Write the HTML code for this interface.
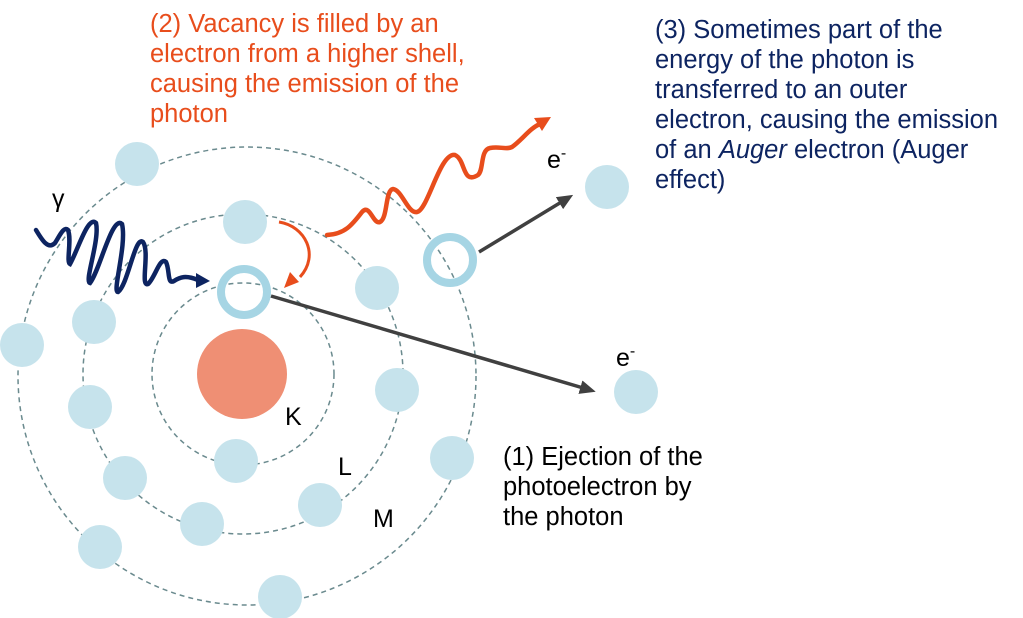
<!DOCTYPE html>
<html><head><meta charset="utf-8"><style>
html,body{margin:0;padding:0;background:#fff;}
svg{display:block;}
text{font-family:"Liberation Sans",Arial,sans-serif;}
</style></head><body>
<svg width="1023" height="618" viewBox="0 0 1023 618" xmlns="http://www.w3.org/2000/svg">
<defs>
<marker id="ag" markerWidth="16" markerHeight="14" refX="10" refY="7" orient="auto" markerUnits="userSpaceOnUse"><path d="M0,0 L16,7 L0,14 Z" fill="#404040"/></marker>
</defs>
<g fill="none" stroke="#6a8a8e" stroke-width="1.5" stroke-dasharray="5,4">
<circle cx="243" cy="374" r="91"/>
<circle cx="243" cy="374" r="160"/>
<circle cx="247" cy="376" r="229"/>
</g>
<circle cx="242" cy="374" r="45" fill="#ef8f74"/>
<g fill="#c6e3ec">
<circle cx="137" cy="164" r="22"/>
<circle cx="245" cy="222" r="22"/>
<circle cx="22" cy="345" r="22"/>
<circle cx="94" cy="322" r="22"/>
<circle cx="90" cy="407" r="22"/>
<circle cx="125" cy="478" r="22"/>
<circle cx="202" cy="524" r="22"/>
<circle cx="100" cy="547" r="22"/>
<circle cx="236" cy="461" r="22"/>
<circle cx="320" cy="505" r="22"/>
<circle cx="280" cy="597" r="22"/>
<circle cx="452" cy="458" r="22"/>
<circle cx="397" cy="390" r="22"/>
<circle cx="377" cy="288" r="22"/>
<circle cx="607" cy="187" r="22"/>
<circle cx="636" cy="392" r="22"/>
</g>
<g fill="none" stroke="#a6d5e4" stroke-width="8">
<circle cx="244" cy="292" r="23"/>
<circle cx="450" cy="260" r="23"/>
</g>
<line x1="271" y1="296" x2="590" y2="390" stroke="#404040" stroke-width="3.5" marker-end="url(#ag)"/>
<line x1="479" y1="252" x2="568" y2="198" stroke="#404040" stroke-width="3.5" marker-end="url(#ag)"/>
<path d="M36,230 C42,240 48,250 55,243 C60,235 64,226 68,230 C72,240 66,262 70,264 C78,250 88,215 96,223 C100,240 84,282 90,283 C100,270 112,215 122,224 C127,245 112,292 118,292 C128,285 135,235 143,242 C150,252 140,287 148,284 C155,278 160,256 166,262 C170,270 167,285 174,281 C180,277 186,275 198,280" fill="none" stroke="#0d2461" stroke-width="4.5" stroke-linecap="round"/>
<path d="M196,273 L210,281 L196,288 Z" fill="#0d2461"/>
<path d="M327,235 C345,234 352,225 362,212 C370,203 373,225 380,222 C388,218 385,190 393,189 C402,190 408,214 417,212 C428,210 440,152 455,155 C466,160 462,185 478,175 C484,170 480,150 490,148 C500,146 505,150 512,147 C522,140 530,128 540,124" fill="none" stroke="#e84d1c" stroke-width="4.5" stroke-linecap="round"/>
<path d="M534,118 L551,117 L542,131 Z" fill="#e84d1c"/>
<path d="M279,222 C305,226 320,255 300,277" fill="none" stroke="#e84d1c" stroke-width="3"/>
<path d="M284,288 L290,272 L299,282 Z" fill="#e84d1c"/>
<g font-size="25" fill="#000">
<text x="285" y="425">K</text>
<text x="338" y="475">L</text>
<text x="373" y="527">M</text>
<text x="52" y="207">γ</text>
<text x="547" y="168">e<tspan font-size="16" dy="-10">-</tspan></text>
<text x="616" y="366">e<tspan font-size="16" dy="-10">-</tspan></text>
</g>
<g font-size="25.5" fill="#e84d1c">
<text x="150" y="32">(2) Vacancy is filled by an</text>
<text x="150" y="62">electron from a higher shell,</text>
<text x="150" y="92">causing the emission of the</text>
<text x="150" y="122">photon</text>
</g>
<g font-size="25.5" fill="#0d2461">
<text x="655" y="38">(3) Sometimes part of the</text>
<text x="655" y="68">energy of the photon is</text>
<text x="655" y="98">transferred to an outer</text>
<text x="655" y="128">electron, causing the emission</text>
<text x="655" y="158">of an <tspan font-style="italic">Auger</tspan> electron (Auger</text>
<text x="655" y="188">effect)</text>
</g>
<g font-size="25.5" fill="#000">
<text x="503" y="465">(1) Ejection of the</text>
<text x="503" y="495">photoelectron by</text>
<text x="503" y="525">the photon</text>
</g>
</svg>
</body></html>
